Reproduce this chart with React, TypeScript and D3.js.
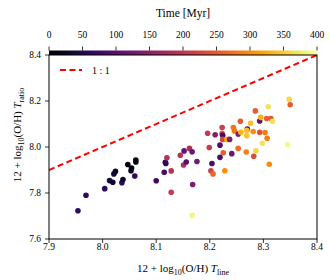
import React, { useEffect } from 'react';
import * as d3 from 'd3';

// 12 + log10(O/H) from T_line (x) and T_ratio (y), coloured by time
const ohLine = [
  7.954, 7.969, 8.004, 8.013, 8.019, 8.021, 8.024, 8.036, 8.038, 8.047, 8.053, 8.054, 8.060, 8.062, 8.062,
  8.100, 8.115, 8.117, 8.118, 8.120, 8.128, 8.128, 8.145, 8.151, 8.152, 8.156, 8.162, 8.167, 8.168, 8.176,
  8.167, 8.196, 8.199, 8.204, 8.202, 8.206, 8.210, 8.219, 8.219, 8.223, 8.223, 8.224, 8.224, 8.225, 8.232,
  8.237, 8.228, 8.241, 8.244, 8.246, 8.253, 8.253, 8.258, 8.257, 8.270, 8.269, 8.269, 8.268, 8.276, 8.281,
  8.282, 8.285, 8.286, 8.293, 8.293, 8.295, 8.298, 8.303, 8.306, 8.307, 8.309, 8.311, 8.314, 8.317, 8.345,
  8.348, 8.350,
];
const ohRatio = [
  7.723, 7.790, 7.819, 7.854, 7.847, 7.883, 7.894, 7.845, 7.859, 7.924, 7.897, 7.909, 7.874, 7.935, 7.943,
  7.853, 7.890, 7.933, 7.928, 7.953, 7.896, 7.803, 7.964, 7.922, 7.983, 7.935, 7.994, 7.979, 7.837, 7.937,
  7.703, 8.060, 7.998, 7.928, 7.897, 7.883, 8.053, 8.008, 7.955, 8.085, 8.059, 8.051, 8.033, 7.975, 8.033,
  8.033, 7.897, 7.971, 8.085, 8.070, 8.056, 7.994, 8.064, 8.112, 8.078, 8.073, 8.049, 7.978, 8.103, 8.067,
  7.960, 8.157, 7.984, 8.064, 8.113, 8.129, 8.016, 8.063, 8.124, 8.038, 8.175, 7.925, 8.124, 8.112, 8.011,
  8.207, 8.184,
];
const timeMyr = [
  70, 65, 60, 40, 30, 35, 30, 60, 30, 10, 20, 15, 65, 10, 5,
  75, 85, 55, 70, 190, 195, 210, 195, 185, 110, 100, 185, 120, 140, 130,
  385, 205, 210, 90, 220, 265, 140, 95, 85, 220, 225, 80, 225, 250, 320,
  140, 300, 120, 275, 280, 145, 270, 330, 250, 90, 340, 345, 290, 340, 300,
  235, 255, 360, 240, 110, 330, 370, 285, 260, 285, 370, 300, 245, 370, 390,
  360, 255,
];

const xTicks = [7.9, 8.0, 8.1, 8.2, 8.3, 8.4];
const yTicks = [7.6, 7.8, 8.0, 8.2, 8.4];
const timeTicks = [0, 50, 100, 150, 200, 250, 300, 350, 400];
const oneToOne = [7.9, 8.4];

const W = 331, H = 280;
const left = 49, right = 317, top = 55, bottom = 239;
const font = '"Liberation Serif", "DejaVu Serif", serif';

export default function App() {
  useEffect(() => {
    document.body.style.margin = '0';
  }, []);

  const x = d3.scaleLinear().domain([7.9, 8.4]).range([left, right]);
  const y = d3.scaleLinear().domain([7.6, 8.4]).range([bottom, top]);
  const cx = d3.scaleLinear().domain([0, 400]).range([left, right]);
  const color = d3.scaleSequential(d3.interpolateInferno).domain([0, 400]);

  const line = d3.line<number>().x(d => x(d)).y(d => y(d));
  const stops = d3.range(0, 1.0001, 0.05);

  return (
    <svg width={W} height={H} style={{ position: 'absolute', left: 0, top: 0, background: '#fff' }} fontFamily={font}>
      <defs>
        <linearGradient id="inferno" x1="0" x2="1" y1="0" y2="0">
          {stops.map(s => (
            <stop key={s} offset={s} stopColor={d3.interpolateInferno(s)} />
          ))}
        </linearGradient>
        <clipPath id="plot">
          <rect x={left} y={top} width={right - left} height={bottom - top} />
        </clipPath>
      </defs>

      {/* colorbar */}
      <rect x={left} y={50.5} width={right - left} height={4.5} fill="url(#inferno)" />
      {timeTicks.map(t => (
        <g key={t}>
          <line x1={cx(t)} x2={cx(t)} y1={46.5} y2={50.5} stroke="#000" strokeWidth={0.8} />
          <text x={cx(t)} y={38} fontSize={9.5} textAnchor="middle">{t}</text>
        </g>
      ))}
      <text x={(left + right) / 2} y={17} fontSize={11.5} textAnchor="middle">Time [Myr]</text>

      {/* points */}
      <g clipPath="url(#plot)">
        {ohLine.map((d, i) => (
          <circle key={i} cx={x(d)} cy={y(ohRatio[i])} r={2.8} fill={color(timeMyr[i])} />
        ))}
        <path d={line(oneToOne) || ''} fill="none" stroke="#ff0000" strokeWidth={2} strokeDasharray="6,3.5" />
      </g>

      {/* frame */}
      <rect x={left} y={top} width={right - left} height={bottom - top} fill="none" stroke="#000" strokeWidth={1} />

      {/* x axis */}
      {xTicks.map(t => (
        <g key={t}>
          <line x1={x(t)} x2={x(t)} y1={bottom} y2={bottom + 4} stroke="#000" strokeWidth={0.8} />
          <text x={x(t)} y={250} fontSize={9.5} textAnchor="middle">{t.toFixed(1)}</text>
        </g>
      ))}
      {/* y axis */}
      {yTicks.map(t => (
        <g key={t}>
          <line x1={left - 4} x2={left} y1={y(t)} y2={y(t)} stroke="#000" strokeWidth={0.8} />
          <text x={41} y={y(t) + 3.3} fontSize={9.5} textAnchor="end">{t.toFixed(1)}</text>
        </g>
      ))}

      {/* axis labels */}
      <text x={(left + right) / 2} y={272} fontSize={11} textAnchor="middle">
        12 + log<tspan fontSize={8} dy={2.5}>10</tspan><tspan dy={-2.5}>(O/H) </tspan>
        <tspan fontStyle="italic">T</tspan><tspan fontSize={8} dy={2.5}>line</tspan>
      </text>
      <text transform={`translate(21,${(top + bottom) / 2 - 12}) rotate(-90)`} fontSize={11} textAnchor="middle">
        12 + log<tspan fontSize={8} dy={2.5}>10</tspan><tspan dy={-2.5}>(O/H) </tspan>
        <tspan fontStyle="italic">T</tspan><tspan fontSize={8} dy={2.5}>ratio</tspan>
      </text>

      {/* legend */}
      <line x1={60} x2={82} y1={70} y2={70} stroke="#ff0000" strokeWidth={2} strokeDasharray="6,3.5" />
      <text x={92} y={73.5} fontSize={10}>1 : 1</text>
    </svg>
  );
}
